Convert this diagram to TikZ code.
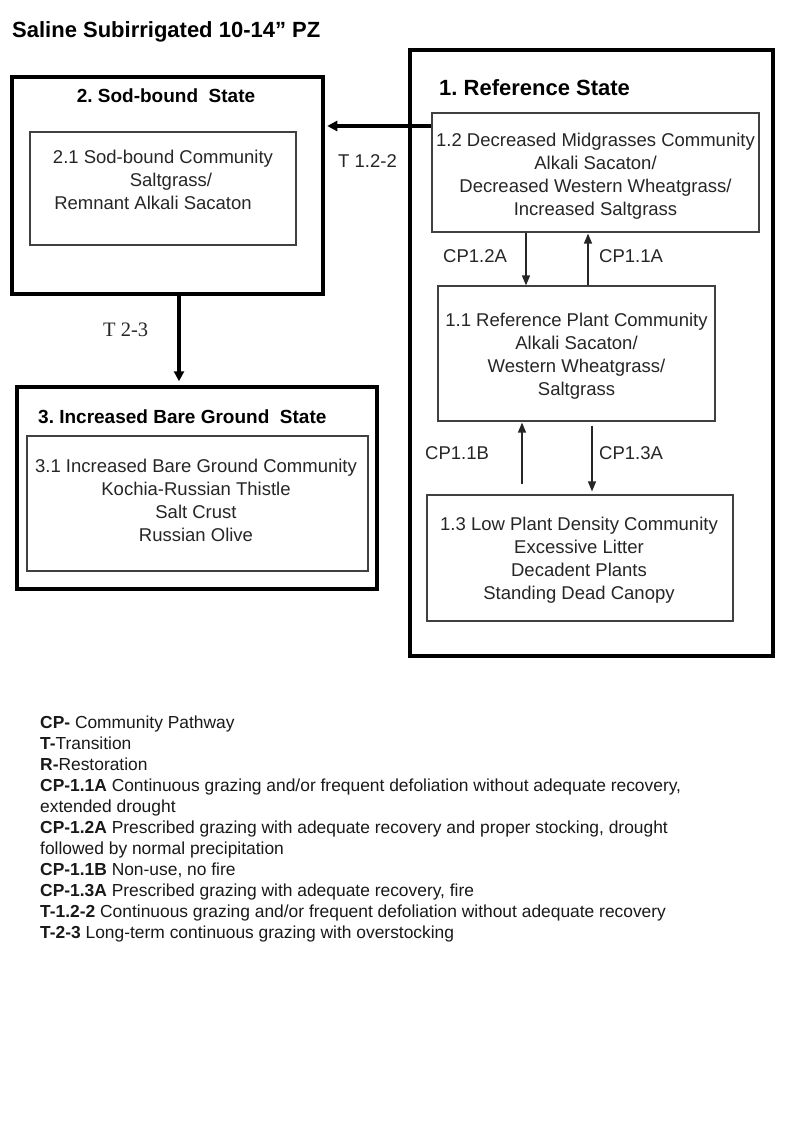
\documentclass[tikz,border=0pt]{standalone}
\usepackage{fontspec}
\setmainfont{Liberation Sans}
\newfontfamily\serifT{Liberation Serif}
\usetikzlibrary{arrows.meta}
\frenchspacing
\begin{document}
\begin{tikzpicture}[x=1pt,y=-1pt,
  statebox/.style={draw=black, line width=4.5pt, inner sep=0pt},
  commbox/.style={draw=black!75, line width=1.2pt, inner sep=0pt},
  commtext/.style={inner sep=0pt, align=center, anchor=north, font=\fontsize{18.5}{23}\selectfont, text=black!85},
  statetitle/.style={inner sep=0pt, font=\fontsize{19}{23}\selectfont\bfseries, text=black},
  pathlabel/.style={inner sep=0pt, anchor=base west, font=\fontsize{18.5}{22}\selectfont, text=black!85},
  bigarrow/.style={line width=3.5pt, -{Triangle[length=10pt,width=10pt]}},
  thinarrow/.style={line width=1.3pt, black!85, -{Triangle[length=10pt,width=8pt]}}
]
\useasboundingbox (0,0) rectangle (800,1143);
\fill[white] (0,0) rectangle (800,1143);

% title
\node[inner sep=0pt, anchor=base west, font=\fontsize{22}{26}\selectfont\bfseries] (title) at (12,37.3) {Saline Subirrigated 10-14” PZ};

% state boxes
\node[statebox, minimum width=311pt, minimum height=217pt] (s2) at (167.5,185.5) {};
\node[statebox, minimum width=363pt, minimum height=606pt] (s1) at (591.5,353) {};
\node[statebox, minimum width=360pt, minimum height=202pt] (s3) at (197,488) {};

% state titles
\node[statetitle, anchor=base] (s2t) at (166,102.3) {2. Sod-bound~~State};
\node[statetitle, anchor=base west, font=\fontsize{22}{26}\selectfont\bfseries] (s1t) at (439,95) {1. Reference State};
\node[statetitle, anchor=base west] (s3t) at (38,423.3) {3. Increased Bare Ground~~State};

% community boxes
\node[commbox, minimum width=266pt, minimum height=113pt] (b21) at (163,188.5) {};
\node[commbox, minimum width=327pt, minimum height=119pt] (b12) at (595.5,172.5) {};
\node[commbox, minimum width=277pt, minimum height=135pt] (b11) at (576.5,353.5) {};
\node[commbox, minimum width=306pt, minimum height=126pt] (b13) at (580,558) {};
\node[commbox, minimum width=341pt, minimum height=135pt] (b31) at (197.5,503.5) {};

% community texts
\node[commtext] (b21t) at (163,149.5) {2.1 Sod-bound Community\\\hspace*{16pt}Saltgrass/\\Remnant Alkali Sacaton\hspace*{20pt}};
\node[commtext] (b12t) at (595.5,132.5) {1.2 Decreased Midgrasses Community\\Alkali Sacaton/\\Decreased Western Wheatgrass/\\Increased Saltgrass};
\node[commtext] (b11t) at (576.5,313.2) {1.1 Reference Plant Community\\Alkali Sacaton/\\Western Wheatgrass/\\Saltgrass};
\node[commtext] (b13t) at (579,516.5) {1.3 Low Plant Density Community\\Excessive Litter\\Decadent Plants\\Standing Dead Canopy};
\node[commtext] (b31t) at (196,459.2) {3.1 Increased Bare Ground Community\\Kochia-Russian Thistle\\Salt Crust\\Russian Olive};

% helper coordinates
\coordinate (t12y) at (0,126);
\coordinate (x23) at (179,0);
\coordinate (xa) at (526,0);
\coordinate (xb) at (588,0);
\coordinate (xc) at (522,0);
\coordinate (xd) at (592,0);

% transitions
\draw[bigarrow, shorten >=2pt] (b12.west |- t12y) -- (s2.east |- t12y);
\draw[bigarrow, shorten >=3.5pt] (s2.south -| x23) -- (s3.north -| x23);

% community pathways
\draw[thinarrow] (b12.south -| xa) -- (b11.north -| xa);
\draw[thinarrow, shorten >=1pt] (b11.north -| xb) -- (b12.south -| xb);
\draw[thinarrow, shorten <=10pt, shorten >=1pt] (b13.north -| xc) -- (b11.south -| xc);
\draw[thinarrow, shorten <=4pt, shorten >=3pt] (b11.south -| xd) -- (b13.north -| xd);

% labels
\node[pathlabel] (lt12) at (338,167) {T 1.2-2};
\node[pathlabel, font=\fontsize{20.5}{24}\serifT] (lt23) at (103,336) {T 2-3};
\node[pathlabel] (l12a) at (443,262.7) {CP1.2A};
\node[pathlabel] (l11a) at (599,262.7) {CP1.1A};
\node[pathlabel] (l11b) at (425,459.3) {CP1.1B};
\node[pathlabel] (l13a) at (599,459.3) {CP1.3A};

% legend
\node[inner sep=0pt, anchor=north west, align=left, font=\fontsize{17.4}{21}\selectfont, text=black!90] (legend) at (40,715.2) {%
\textbf{CP-} Community Pathway\\
\textbf{T-}Transition\\
\textbf{R-}Restoration\\
\textbf{CP-1.1A} Continuous grazing and/or frequent defoliation without adequate recovery,\\
extended drought\\
\textbf{CP-1.2A} Prescribed grazing with adequate recovery and proper stocking, drought\\
followed by normal precipitation\\
\textbf{CP-1.1B} Non-use, no fire\\
\textbf{CP-1.3A} Prescribed grazing with adequate recovery, fire\\
\textbf{T-1.2-2} Continuous grazing and/or frequent defoliation without adequate recovery\\
\textbf{T-2-3} Long-term continuous grazing with overstocking};
\end{tikzpicture}
\end{document}
